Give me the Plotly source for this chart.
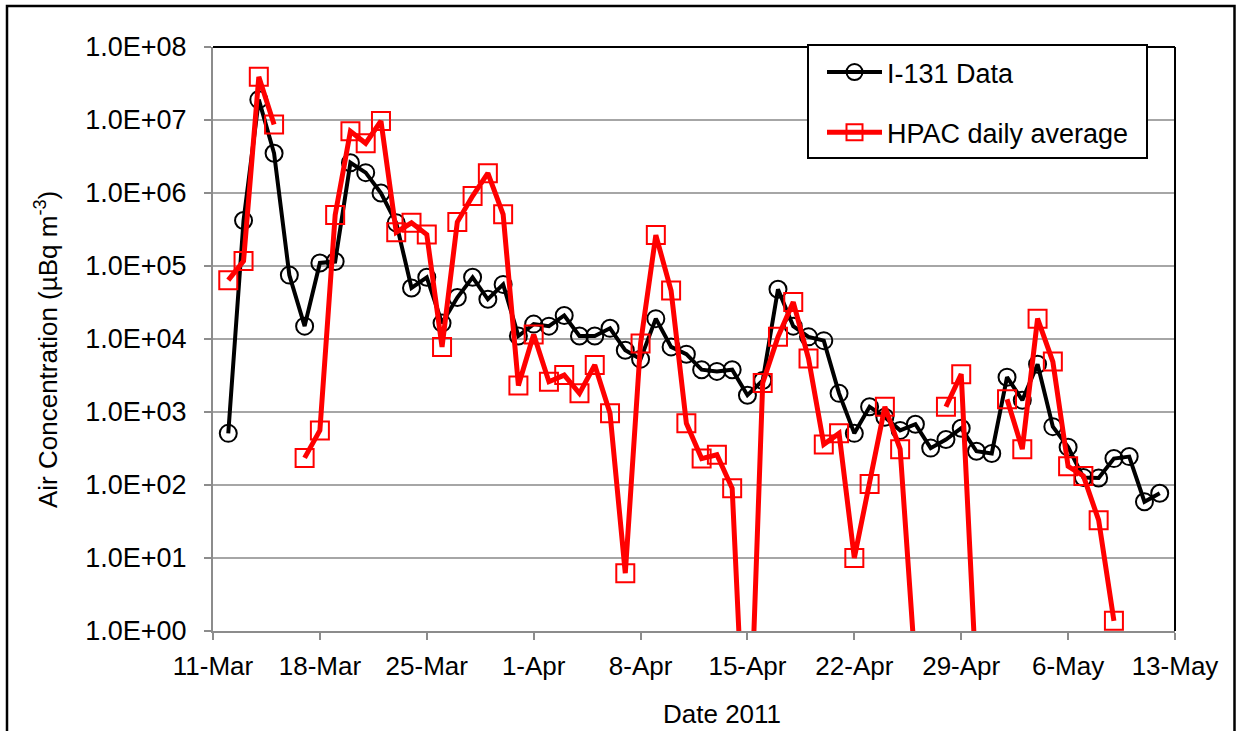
import pandas as pd
import plotly.graph_objects as go

# I-131 measurements, one per day from 12-Mar-2011
i131_dates = pd.date_range("2011-03-12", periods=62, freq="D")
i131_vals = [
    5.1e2, 4.2e5, 1.9e7, 3.5e6, 7.5e4, 1.5e4, 1.1e5, 1.15e5, 2.6e6, 1.9e6,
    1.0e6, 3.9e5, 5.0e4, 7.0e4, 1.65e4, 3.7e4, 7.0e4, 3.5e4, 5.6e4, 1.1e4,
    1.6e4, 1.5e4, 2.1e4, 1.1e4, 1.1e4, 1.4e4, 7.0e3, 5.3e3, 1.9e4, 7.8e3,
    6.2e3, 3.8e3, 3.6e3, 3.8e3, 1.7e3, 2.7e3, 4.8e4, 1.5e4, 1.07e4, 9.5e3,
    1.8e3, 5.1e2, 1.18e3, 8.5e2, 5.6e2, 6.8e2, 3.2e2, 4.2e2, 6.0e2, 2.9e2,
    2.7e2, 3.0e3, 1.45e3, 4.5e3, 6.3e2, 3.3e2, 1.27e2, 1.25e2, 2.3e2, 2.45e2,
    5.9e1, 7.7e1,
]

# HPAC daily average (None = no value, <1 = falls below the axis)
hpac_dates = pd.date_range("2011-03-12", periods=59, freq="D")
hpac_vals = [
    6.4e4, 1.17e5, 3.9e7, 8.7e6, None, 2.35e2, 5.6e2, 5.0e5, 7.0e6, 4.8e6,
    9.7e6, 2.9e5, 3.9e5, 2.7e5, 7.8e3, 4.0e5, 9.1e5, 1.87e6, 5.1e5, 2.3e3,
    1.15e4, 2.6e3, 3.2e3, 1.8e3, 4.4e3, 9.6e2, 6.2, 8.7e3, 2.65e5, 4.6e4,
    7.0e2, 2.3e2, 2.6e2, 9.0e1, 0.003, 2.5e3, 1.07e4, 3.2e4, 5.4e3, 3.6e2,
    5.1e2, 1.0e1, 1.03e2, 1.18e3, 3.1e2, 0.3, None, 1.18e3, 3.3e3, 0.18,
    None, 1.5e3, 3.1e2, 1.9e4, 4.9e3, 1.8e2, 1.33e2, 3.3e1, 1.38,
]

x_ticks = pd.date_range("2011-03-11", "2011-05-13", freq="7D")
x_ticktext = [d.strftime("%-d-%b") for d in x_ticks]
y_ticks = [10 ** k for k in range(9)]
y_ticktext = [f"1.0E+{k:02d}" for k in range(9)]

FONT = "Arial, Liberation Sans, sans-serif"
W, H = 1236, 731
L, R, T, B = 213, 1175, 47, 631   # plot area in pixels


def fx(px):
    return (px - L) / (R - L)


def fy(py):
    return (B - py) / (B - T)


fig = go.Figure()
fig.add_trace(go.Scatter(
    x=i131_dates, y=i131_vals, name="I-131 Data", mode="lines+markers",
    line=dict(color="black", width=4),
    marker=dict(symbol="circle-open", size=17, color="black",
                line=dict(width=2, color="black")),
    legendgroup="a",
))
fig.add_trace(go.Scatter(
    x=hpac_dates, y=hpac_vals, name="HPAC daily average", mode="lines+markers",
    line=dict(color="#ff0000", width=5),
    marker=dict(symbol="square-open", size=18, color="#ff0000",
                line=dict(width=2, color="#ff0000")),
    legendgroup="b",
))

shapes = [
    # outer chart border
    dict(type="rect", xref="paper", yref="paper",
         x0=fx(7), x1=fx(1234.5), y0=fy(745), y1=fy(6),
         line=dict(color="black", width=2.5), layer="below"),
    # plot-area top and right borders
    dict(type="line", xref="paper", yref="paper", x0=0, x1=1, y0=1, y1=1,
         line=dict(color="black", width=2)),
    dict(type="line", xref="paper", yref="paper", x0=1, x1=1, y0=0, y1=1,
         line=dict(color="black", width=2)),
    # legend frame
    dict(type="rect", xref="paper", yref="paper",
         x0=fx(808), x1=fx(1147), y0=fy(158), y1=fy(45),
         fillcolor="white", line=dict(color="black", width=2), layer="above"),
]

fig.update_layout(
    width=W, height=H,
    margin=dict(l=L, r=W - R, t=T, b=H - B),
    paper_bgcolor="white", plot_bgcolor="white",
    font=dict(family=FONT, size=26, color="black"),
    showlegend=True,
    legend=dict(
        x=fx(822), y=fy(48), xanchor="left", yanchor="top",
        bgcolor="rgba(0,0,0,0)", borderwidth=0,
        font=dict(family=FONT, size=27, color="black"),
        traceorder="grouped", tracegroupgap=22,
        itemwidth=55,
    ),
    xaxis=dict(
        range=["2011-03-11", "2011-05-13"],
        tickmode="array", tickvals=x_ticks, ticktext=x_ticktext,
        showgrid=False, zeroline=False,
        showline=True, linecolor="#8c8c8c", linewidth=2,
        ticks="outside", ticklen=7, tickwidth=2, tickcolor="#8c8c8c",
        tickfont=dict(family=FONT, size=26, color="black"),
        ticklabelstandoff=4,
    ),
    yaxis=dict(
        type="log", range=[0, 8],
        tickmode="array", tickvals=y_ticks, ticktext=y_ticktext,
        showgrid=True, gridcolor="#a6a6a6", gridwidth=2,
        zeroline=False,
        showline=True, linecolor="#8c8c8c", linewidth=2,
        ticks="outside", ticklen=7, tickwidth=2, tickcolor="#8c8c8c",
        tickfont=dict(family=FONT, size=27, color="black"),
        ticklabelstandoff=12,
    ),
    shapes=shapes,
    annotations=[
        dict(text="Air Concentration (µBq m<sup>-3</sup>)", textangle=-90,
             xref="paper", yref="paper", x=fx(46), y=fy(350),
             xanchor="center", yanchor="middle", showarrow=False,
             font=dict(family=FONT, size=26, color="black")),
        dict(text="Date 2011",
             xref="paper", yref="paper", x=fx(722), y=fy(714),
             xanchor="center", yanchor="middle", showarrow=False,
             font=dict(family=FONT, size=26, color="black")),
    ],
)

fig.write_html(
    "out.html",
    config={"displayModeBar": False},
    post_script="document.body.style.margin='0';"
                "document.body.style.overflow='hidden';",
)
